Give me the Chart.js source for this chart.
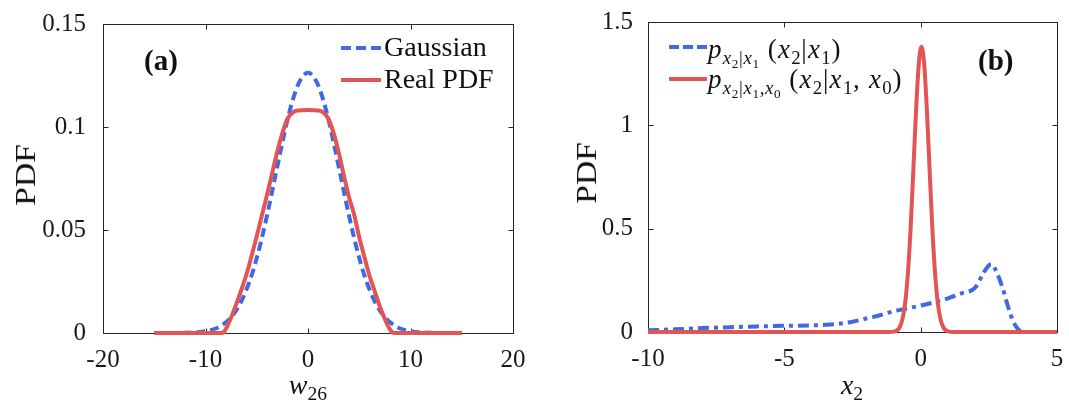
<!DOCTYPE html>
<html>
<head>
<meta charset="utf-8">
<title>PDF comparison</title>
<script src="https://cdn.jsdelivr.net/npm/chart.js@4.4.1/dist/chart.umd.min.js"></script>
<style>
  html, body { margin:0; padding:0; background:#ffffff; }
  #wrap { position:relative; width:1069px; height:403px; overflow:hidden; background:#fff;
          font-family:"Liberation Serif","Times New Roman",serif; color:#111; }
  #wrap canvas { position:absolute; top:0; }
  .txt { position:absolute; white-space:nowrap; line-height:1; }
  .leg { font-size:28px; }
  .math { font-size:27px; letter-spacing:1.3px; }
  .math i, .lab i { font-style:italic; }
  sub { font-size:0.7em; vertical-align:-0.32em; line-height:0; }
  .math sub { letter-spacing:0.6px; }
  .lab { font-size:28px; transform:translateX(-50%); }
  .panel { font-size:29px; font-weight:bold; }
  .ylab { font-size:30px; transform:translate(-50%,-50%) rotate(-90deg) scaleX(1.12); }
  svg.samp { position:absolute; overflow:visible; }
</style>
</head>
<body>
<div id="wrap">
  <canvas id="ca" width="540" height="403" style="left:0;width:540px;height:403px"></canvas>
  <canvas id="cb" width="529" height="403" style="left:540px;width:529px;height:403px"></canvas>

  <!-- panel (a) texts -->
  <div class="txt ylab" style="left:25px;top:175px;">PDF</div>
  <div class="txt lab" style="left:308px;top:371px;"><i>w</i><sub>26</sub></div>
  <div class="txt panel" style="left:144px;top:46px;">(a)</div>
  <svg class="samp" style="left:341px;top:38px" width="40" height="20"><line x1="0" y1="10" x2="40" y2="10" stroke="#4169E1" stroke-width="4" stroke-dasharray="10 5"/></svg>
  <div class="txt leg" style="left:384px;top:33px;">Gaussian</div>
  <svg class="samp" style="left:341px;top:70px" width="40" height="20"><line x1="0" y1="10" x2="40" y2="10" stroke="#E35454" stroke-width="4"/></svg>
  <div class="txt leg" style="left:384px;top:65px;">Real PDF</div>

  <!-- panel (b) texts -->
  <div class="txt ylab" style="left:586px;top:173px;">PDF</div>
  <div class="txt lab" style="left:852px;top:371px;"><i>x</i><sub>2</sub></div>
  <div class="txt panel" style="left:978px;top:46px;">(b)</div>
  <svg class="samp" style="left:669px;top:37px" width="38" height="20"><line x1="0" y1="10" x2="38" y2="10" stroke="#4169E1" stroke-width="4" stroke-dasharray="10 4"/></svg>
  <div class="txt math" style="left:708px;top:36px;"><i>p</i><sub><i>x</i><sub>2</sub>|<i>x</i><sub>1</sub></sub>&nbsp;(<i>x</i><sub>2</sub>|<i>x</i><sub>1</sub>)</div>
  <svg class="samp" style="left:669px;top:69px" width="38" height="20"><line x1="0" y1="10" x2="38" y2="10" stroke="#E35454" stroke-width="4"/></svg>
  <div class="txt math" style="left:708px;top:66px;"><i>p</i><sub><i>x</i><sub>2</sub>|<i>x</i><sub>1</sub>,<i>x</i><sub>0</sub></sub>&nbsp;(<i>x</i><sub>2</sub>|<i>x</i><sub>1</sub>, <i>x</i><sub>0</sub>)</div>
</div>

<script>
// ---------- Panel (a) data ----------
const gaussX = [-15,-12.5,-12,-11.5,-11,-10.5,-10,-9.5,-9,-8.5,-8,-7.5,-7,-6.5,-6,-5.5,-5,-4.5,-4,-3.5,-3,-2.5,-2,-1.5,-1,-0.5,
                0,0.5,1,1.5,2,2.5,3,3.5,4,4.5,5,5.5,6,6.5,7,7.5,8,8.5,9,9.5,10,10.5,11,11.5,12,12.5,15];
const gaussY = [0,0,0.0001,0.0002,0.0003,0.0005,0.0009,0.0014,0.0022,0.0035,0.0052,0.0077,0.0110,0.0154,0.0211,0.0280,0.0364,0.0461,0.0570,0.0687,0.0807,0.0925,0.1035,0.1129,0.1202,0.1247,
                0.1263,0.1247,0.1202,0.1129,0.1035,0.0925,0.0807,0.0687,0.0570,0.0461,0.0364,0.0280,0.0211,0.0154,0.0110,0.0077,0.0052,0.0035,0.0022,0.0014,0.0009,0.0005,0.0003,0.0002,0.0001,0,0];
const realX = [-15,-8.5,-8.2,-7.9,-7.5,-7,-6.5,-6,-5.5,-5,-4.5,-4,-3.5,-3,-2.5,-2,-1.5,-1,
               0,1,1.5,2,2.5,3,3.5,4,4.5,5,5.5,6,6.5,7,7.5,7.9,8.2,8.5,15];
const realY = [0,0,0.0005,0.003,0.0075,0.014,0.021,0.0285,0.0375,0.047,0.057,0.067,0.0775,0.088,0.097,0.104,0.107,0.108,
               0.1082,0.108,0.107,0.104,0.097,0.0875,0.0765,0.066,0.0575,0.0465,0.037,0.0278,0.0205,0.013,0.0068,0.0025,0.0004,0,0];
const xTicksA = [-20,-10,0,10,20];
const xTickLabelsA = ['-20','-10','0','10','20'];
const yTicksA = [0,0.05,0.1,0.15];
const yTickLabelsA = ['0','0.05','0.1','0.15'];

// ---------- Panel (b) data ----------
const condX = [-10,-9,-8,-7,-6,-5,-4,-3.5,-3,-2.5,-2,-1.5,-1,-0.5,0,0.5,1,1.5,2,2.3,2.5,2.6,2.8,3.0,3.2,3.4,3.6,3.8,5];
const condY = [0.008,0.013,0.019,0.023,0.027,0.030,0.032,0.035,0.040,0.050,0.065,0.081,0.100,0.114,0.128,0.144,0.163,0.187,0.215,0.285,0.322,0.328,0.285,0.215,0.125,0.050,0.010,0,0];
const fullX = [-10,-1.17,-0.97,-0.87,-0.77,-0.67,-0.57,-0.47,-0.37,-0.27,-0.17,-0.07,0.03,0.13,0.23,0.33,0.43,0.53,0.63,0.73,0.83,0.93,1.03,1.23,5];
const fullY = [0,0,0.002,0.008,0.023,0.061,0.139,0.281,0.498,0.778,1.069,1.295,1.380,1.295,1.069,0.778,0.498,0.281,0.139,0.061,0.023,0.008,0.002,0,0];
const xTicksB = [-10,-5,0,5];
const xTickLabelsB = ['-10','-5','0','5'];
const yTicksB = [0,0.5,1,1.5];
const yTickLabelsB = ['0','0.5','1','1.5'];

const BLUE = '#4169E1';
const RED = '#E35454';
const FONT = '"Liberation Serif", "Times New Roman", serif';

const framePlugin = {
  id: 'frame',
  beforeDatasetsDraw(chart) {
    const { ctx, chartArea: a, scales: { x, y } } = chart;
    ctx.save();
    ctx.strokeStyle = '#262626';
    ctx.lineWidth = 1;
    const L = Math.round(a.left) + 0.5, R = Math.round(a.right) + 0.5;
    const T = Math.round(a.top) + 0.5, B = Math.round(a.bottom) + 0.5;
    ctx.strokeRect(L, T, R - L, B - T);
    const tl = 5;
    ctx.beginPath();
    x.ticks.forEach(t => {
      const px = Math.round(x.getPixelForValue(t.value)) + 0.5;
      if (px <= L + 1 || px >= R - 1) return;
      ctx.moveTo(px, B); ctx.lineTo(px, B - tl);
      ctx.moveTo(px, T); ctx.lineTo(px, T + tl);
    });
    y.ticks.forEach(t => {
      const py = Math.round(y.getPixelForValue(t.value)) + 0.5;
      if (py <= T + 1 || py >= B - 1) return;
      ctx.moveTo(L, py); ctx.lineTo(L + tl, py);
      ctx.moveTo(R, py); ctx.lineTo(R - tl, py);
    });
    ctx.stroke();
    ctx.restore();
  }
};

function pts(xs, ys) { return xs.map((x, i) => ({ x, y: ys[i] })); }

function makeChart(id, cfg) {
  return new Chart(document.getElementById(id), {
    type: 'scatter',
    data: {
      datasets: [
        { data: pts(cfg.bx, cfg.by), borderColor: BLUE, borderWidth: 4, borderDash: cfg.dash,
          showLine: true, pointRadius: 0, fill: false, cubicInterpolationMode: 'monotone',
          clip: false, order: 2, borderCapStyle: 'butt', borderJoinStyle: 'round' },
        { data: pts(cfg.rx, cfg.ry), borderColor: RED, borderWidth: 4,
          showLine: true, pointRadius: 0, fill: false, cubicInterpolationMode: 'monotone',
          clip: false, order: 1, borderCapStyle: 'butt', borderJoinStyle: 'round' }
      ]
    },
    options: {
      responsive: false, animation: false, events: [],
      layout: { padding: { left: 0, right: cfg.padR, top: cfg.padT, bottom: 0 } },
      plugins: { legend: { display: false }, tooltip: { enabled: false } },
      scales: {
        x: {
          type: 'linear', min: cfg.xmin, max: cfg.xmax,
          grid: { display: false }, border: { display: false },
          afterBuildTicks: s => { s.ticks = cfg.xt.map(v => ({ value: v })); },
          afterFit: s => { s.height = cfg.xh; },
          ticks: { font: { family: FONT, size: 25 }, color: '#1a1a1a', padding: 4,
                   maxRotation: 0, autoSkip: false, callback: (v, i) => cfg.xl[i] }
        },
        y: {
          type: 'linear', min: cfg.ymin, max: cfg.ymax,
          grid: { display: false }, border: { display: false },
          afterBuildTicks: s => { s.ticks = cfg.yt.map(v => ({ value: v })); },
          afterFit: s => { s.width = cfg.yw; },
          ticks: { font: { family: FONT, size: 25 }, color: '#1a1a1a', padding: cfg.ypad,
                   autoSkip: false, callback: (v, i) => cfg.yl[i] }
        }
      }
    },
    plugins: [framePlugin]
  });
}

makeChart('ca', { bx: gaussX, by: gaussY, rx: realX, ry: realY, dash: [9, 5],
  xmin: -20, xmax: 20, ymin: 0, ymax: 0.15, xt: xTicksA, xl: xTickLabelsA, yt: yTicksA, yl: yTickLabelsA,
  padR: 27, padT: 19.5, xh: 70, yw: 103, ypad: 9 });

makeChart('cb', { bx: condX, by: condY, rx: fullX, ry: fullY, dash: [11, 5, 4, 5],
  xmin: -10, xmax: 5, ymin: 0, ymax: 1.5, xt: xTicksB, xl: xTickLabelsB, yt: yTicksB, yl: yTickLabelsB,
  padR: 12, padT: 19, xh: 71, yw: 108, ypad: 7 });
</script>
</body>
</html>
